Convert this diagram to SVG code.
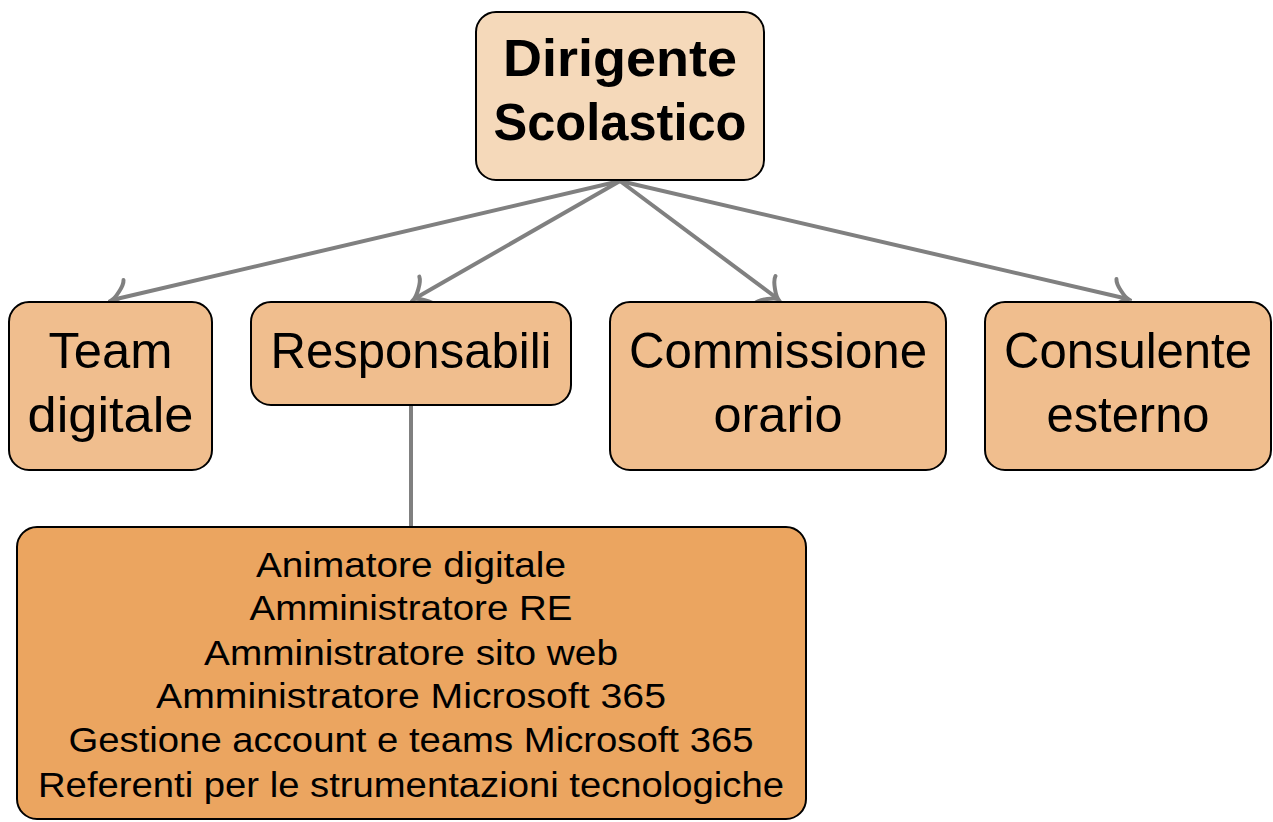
<svg xmlns="http://www.w3.org/2000/svg" width="1273" height="822" viewBox="0 0 1273 822">
<style>
.box{stroke:#000;stroke-width:2}
.top{fill:#F5D9BA}
.mid{fill:#F0BE8E}
.low{fill:#EBA560}
.t{font-family:"Liberation Sans",Arial,sans-serif;fill:#000;text-anchor:middle}
.b{font-weight:bold;font-size:52px}
.m{font-size:50px}
.s{font-size:35px}
.c{stroke:#808080;stroke-width:4;fill:none}
</style>
<defs>
<marker id="to" markerUnits="userSpaceOnUse" viewBox="-20 -20 24 40" refX="0" refY="0" markerWidth="24" markerHeight="40" orient="auto">
<path d="M -15.75 -16.8 C -14.7 -10.5 -3.15 -1.05 0 0 C -3.15 1.05 -14.7 10.5 -15.75 16.8" fill="none" stroke="#808080" stroke-width="4" stroke-linecap="round"/>
</marker>
</defs>
<g id="connectors">
<line class="c" x1="620" y1="181" x2="112" y2="300" marker-end="url(#to)"/>
<line class="c" x1="620" y1="181" x2="414" y2="299" marker-end="url(#to)"/>
<line class="c" x1="620" y1="181" x2="778" y2="299" marker-end="url(#to)"/>
<line class="c" x1="620" y1="181" x2="1128" y2="299" marker-end="url(#to)"/>
<line class="c" x1="411" y1="405" x2="411" y2="527"/>
</g>
<g id="dirigente">
<rect class="box top" x="476" y="12" width="288" height="168" rx="20"/>
<text class="t b" x="620" y="76" textLength="234" lengthAdjust="spacingAndGlyphs">Dirigente</text>
<text class="t b" x="620" y="140" textLength="253" lengthAdjust="spacingAndGlyphs">Scolastico</text>
</g>
<g id="team">
<rect class="box mid" x="9" y="302" width="203" height="168" rx="20"/>
<text class="t m" x="110.5" y="368" textLength="124" lengthAdjust="spacingAndGlyphs">Team</text>
<text class="t m" x="110.5" y="432" textLength="166" lengthAdjust="spacingAndGlyphs">digitale</text>
</g>
<g id="responsabili">
<rect class="box mid" x="251" y="302" width="320" height="103" rx="20"/>
<text class="t m" x="411" y="368" textLength="281" lengthAdjust="spacingAndGlyphs">Responsabili</text>
</g>
<g id="commissione">
<rect class="box mid" x="610" y="302" width="336" height="168" rx="20"/>
<text class="t m" x="778" y="368" textLength="298" lengthAdjust="spacingAndGlyphs">Commissione</text>
<text class="t m" x="778" y="432" textLength="129" lengthAdjust="spacingAndGlyphs">orario</text>
</g>
<g id="consulente">
<rect class="box mid" x="985" y="302" width="286" height="168" rx="20"/>
<text class="t m" x="1128" y="368" textLength="248" lengthAdjust="spacingAndGlyphs">Consulente</text>
<text class="t m" x="1128" y="432" textLength="163" lengthAdjust="spacingAndGlyphs">esterno</text>
</g>
<g id="elenco">
<rect class="box low" x="17" y="527" width="789" height="292" rx="20"/>
<text class="t s" x="411" y="577" textLength="310" lengthAdjust="spacingAndGlyphs">Animatore digitale</text>
<text class="t s" x="411" y="620" textLength="323" lengthAdjust="spacingAndGlyphs">Amministratore RE</text>
<text class="t s" x="411" y="665" textLength="414" lengthAdjust="spacingAndGlyphs">Amministratore sito web</text>
<text class="t s" x="411" y="708" textLength="510" lengthAdjust="spacingAndGlyphs">Amministratore Microsoft 365</text>
<text class="t s" x="411" y="752" textLength="685" lengthAdjust="spacingAndGlyphs">Gestione account e teams Microsoft 365</text>
<text class="t s" x="411" y="797" textLength="746" lengthAdjust="spacingAndGlyphs">Referenti per le strumentazioni tecnologiche</text>
</g>
</svg>
